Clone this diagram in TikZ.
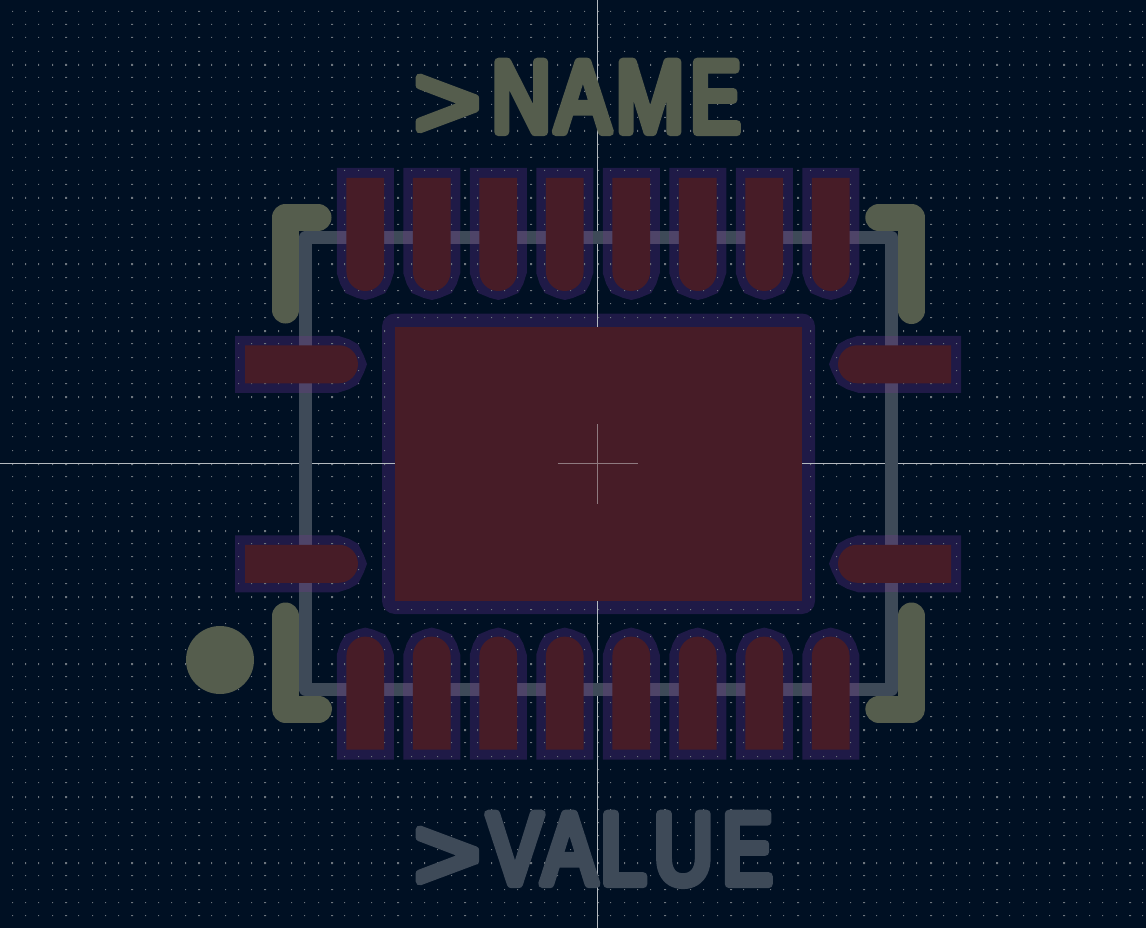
\documentclass[tikz,border=0pt]{standalone}
\usepackage{fontspec}
\newfontfamily\silkfont[FakeBold=8,FakeStretch=0.8]{Liberation Sans}
\newfontfamily\silkgt[FakeBold=8,FakeStretch=1.12]{Liberation Sans}
\newfontfamily\silke[FakeBold=8,FakeStretch=0.72]{Liberation Sans}
\newcommand{\roundstroke}{\special{pdf:code 1 j 1 J}}
\newcommand{\gtglyph}{\lower5pt\hbox{\silkgt >}}
\newcommand{\eglyph}{{\silke E}}
\definecolor{bgc}{HTML}{001023}
\definecolor{silkc}{HTML}{555D4D}
\definecolor{fabc}{HTML}{3E4A58}
\definecolor{fablight}{HTML}{4E4468}
\definecolor{clrc}{HTML}{1F1A47}
\definecolor{padc}{HTML}{471C27}
\definecolor{dotc}{HTML}{6E767E}
\definecolor{axisc}{HTML}{B4BAC0}
\definecolor{crossc}{HTML}{8F7A80}
\tikzset{
  silkline/.style={draw=silkc,line width=27pt,line cap=round,line join=round},
  fabline/.style={draw=fabc,line width=12.8pt,line join=round},
  silktext/.style={anchor=base west,inner sep=0pt,outer sep=0pt,
    font=\silkfont\fontsize{102}{102}\selectfont}
}
\newcommand{\vpadclr}{(-28.5,168) -- (28.5,168) -- (28.5,273) -- (25,284) -- (20,293) -- (8,298) -- (0,300) -- (-8,298) -- (-20,293) -- (-25,284) -- (-28.5,273) -- cycle}
\newcommand{\vpadred}{(-18.8,178) -- (18.8,178) -- (18.8,272) .. controls (18.8,282.4) and (10.4,291) .. (0,291) .. controls (-10.4,291) and (-18.8,282.4) .. (-18.8,272) -- cycle}
\newcommand{\hpadclr}{(235,-28.5) -- (338,-28.5) -- (349,-25) -- (358,-20) -- (364,-8) -- (367,0) -- (364,8) -- (358,20) -- (349,25) -- (338,28.5) -- (235,28.5) -- cycle}
\newcommand{\hpadred}{(245,-19) -- (339,-19) .. controls (349.4,-19) and (358,-10.4) .. (358,0) .. controls (358,10.4) and (349.4,19) .. (339,19) -- (245,19) -- cycle}
\newcommand{\allpads}[3]{%
  \foreach \c in {365.25,431.75,498.25,564.75,631.25,697.75,764.25,830.75}{%
    \fill[#3,shift={(\c,0)}] #1;
    \fill[#3,cm={1,0,0,-1,(\c,927.6)}] #1;
  }
  \foreach \c in {364.25,563.75}{%
    \fill[#3,shift={(0,\c)}] #2;
    \fill[#3,cm={-1,0,0,1,(1196,\c)}] #2;
  }
}
\begin{document}
\begin{tikzpicture}[x=1pt,y=-1pt]
\useasboundingbox (0,0) rectangle (1146,928);
\fill[bgc] (0,0) rectangle (1146,928);
% pad clearances
\allpads{\vpadclr}{\hpadclr}{clrc}
\fill[clrc,rounded corners=13pt] (382,313.5) rectangle (815,614);
% grid
\fill[dotc]
  \foreach \i in {-44,...,41}{
    \foreach \j in {-34,...,34}{
      [/utils/exec={%
        \pgfmathsetmacro{\px}{round(597+13.3*\i)}%
        \pgfmathsetmacro{\py}{round(463+13.3*\j)}%
        \pgfmathsetmacro{\pw}{mod(abs(\i),5)==0?2:1}%
        \pgfmathsetmacro{\ph}{mod(abs(\j),5)==0?2:1}}]
      (\px,\py) rectangle ++(\pw,\ph)
    }
  };
% axes
\draw[axisc,line width=1pt] (597.5,0) -- (597.5,928);
\draw[axisc,line width=1pt] (0,463.5) -- (1146,463.5);
% fab outline
\draw[fabline] (305.3,237.5) rectangle (891.7,689.4);
\foreach \c in {365.25,431.75,498.25,564.75,631.25,697.75,764.25,830.75}{
  \fill[fablight] (\c-28.5,231.1) rectangle (\c+28.5,243.9);
  \fill[fablight] (\c-28.5,683) rectangle (\c+28.5,695.8);
}
\foreach \c in {364.25,563.75}{
  \fill[fablight] (298.9,\c-28.5) rectangle (311.7,\c+28.5);
  \fill[fablight] (885.3,\c-28.5) rectangle (898.1,\c+28.5);
}
% copper
\allpads{\vpadred}{\hpadred}{padc}
\fill[padc] (395,327) rectangle (801.5,601);
\draw[crossc,line width=1pt] (557.5,463.5) -- (638,463.5);
\draw[crossc,line width=1pt] (597.5,424) -- (597.5,504);
% silkscreen
\draw[silkline] (318,217.5) -- (285.5,217.5) -- (285.5,310);
\draw[silkline] (878.8,217.5) -- (911.5,217.5) -- (911.5,310.5);
\draw[silkline] (285.5,616) -- (285.5,709) -- (318.5,709);
\draw[silkline] (911.5,616) -- (911.5,709) -- (878.8,709);
\fill[silkc] (220,660) circle[radius=34];
\node[silktext,text=silkc] (nametext) at (414,132) {\roundstroke\gtglyph\kern11pt N\kern5pt A\kern6pt M\kern7pt \eglyph};
\node[silktext,text=fabc] (valuetext) at (414,884) {\roundstroke\gtglyph\kern7pt V\kern0pt A\kern4pt L\kern8pt U\kern10pt \eglyph};
\end{tikzpicture}
\end{document}
